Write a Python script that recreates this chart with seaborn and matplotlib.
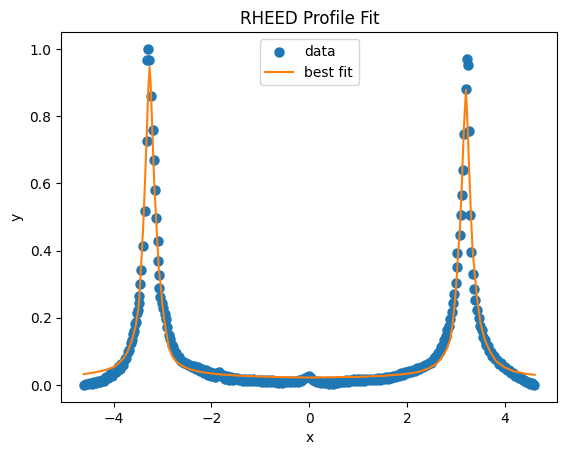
import matplotlib
matplotlib.use("Agg")
import matplotlib.pyplot as plt
import seaborn as sns
import numpy as np

# ---- measured data (x, y) ----
tail_left_x = [-4.60,-4.56,-4.52,-4.48,-4.44,-4.40,-4.36,-4.32,-4.28,-4.24,-4.20,-4.16,-4.12,-4.08,-4.04,-4.00,
               -3.96,-3.92,-3.88,-3.84,-3.80,-3.77,-3.74,-3.71,-3.68,-3.65,-3.62,-3.60,-3.58,-3.56,-3.54,-3.52,-3.50,-3.49]
tail_left_y = [0.000,0.004,0.002,0.007,0.004,0.009,0.006,0.012,0.009,0.016,0.013,0.024,0.020,0.032,0.028,0.041,
               0.037,0.052,0.046,0.063,0.060,0.078,0.080,0.097,0.103,0.124,0.134,0.152,0.160,0.180,0.188,0.214,0.222,0.244]

peak_left_x = [-3.476,-3.463,-3.443,-3.394,-3.361,-3.327,-3.310,-3.290,-3.268,-3.245,-3.198,-3.178,-3.157,-3.129,
               -3.102,-3.088,-3.076,-3.067,-3.050,-3.020,-2.990,-2.960,-2.930]
peak_left_y = [0.265,0.300,0.342,0.414,0.517,0.726,0.967,1.000,0.967,0.860,0.760,0.668,0.580,0.497,
               0.428,0.369,0.327,0.289,0.263,0.245,0.228,0.212,0.195]

shoulder_left_x = [-2.90,-2.87,-2.84,-2.81,-2.78,-2.75,-2.72,-2.69,-2.66,-2.63,-2.60,-2.56,-2.52,-2.48,-2.44,-2.40,
                   -2.36,-2.32,-2.28,-2.24,-2.20,-2.16,-2.12,-2.08,-2.04,-2.00,-1.96,-1.92,-1.88,-1.84,-1.80,-1.76,
                   -1.72,-1.68,-1.64,-1.60,-1.56,-1.52]
shoulder_left_y = [0.172,0.148,0.138,0.119,0.114,0.098,0.095,0.083,0.082,0.072,0.072,0.064,0.065,0.058,0.060,0.053,
                   0.056,0.048,0.052,0.041,0.048,0.034,0.043,0.030,0.039,0.026,0.036,0.024,0.036,0.037,0.028,0.030,
                   0.019,0.026,0.016,0.023,0.015,0.022]

center_x = [-1.48,-1.44,-1.40,-1.36,-1.32,-1.28,-1.24,-1.20,-1.16,-1.12,-1.08,-1.04,-1.00,-0.96,-0.92,-0.88,
            -0.84,-0.80,-0.76,-0.72,-0.68,-0.64,-0.60,-0.56,-0.52,-0.48,-0.44,-0.40,-0.36,-0.32,-0.28,-0.24,
            -0.20,-0.16,-0.12,-0.08,-0.04,0.00,0.04,0.08,0.12,0.16,0.20,0.24,0.28,0.32,0.36,0.40,
            0.44,0.48,0.52,0.56,0.60,0.64,0.68,0.72,0.76,0.80,0.84,0.88,0.92,0.96,1.00,1.04,
            1.08,1.12,1.16,1.20,1.24,1.28,1.32,1.36,1.40,1.44,1.48,1.52,1.56,1.60,1.64,1.68,
            1.72,1.76,1.80,1.84,1.88,1.92,1.96,2.00,2.04,2.08,2.12,2.16,2.20,2.24,2.28,2.32,
            2.36,2.40,2.44,2.48,2.52,2.55,2.58,2.61,2.64,2.67,2.70,2.73,2.76,2.79,2.82,2.85,2.88]
center_y = [0.021,0.014,0.019,0.013,0.018,0.012,0.017,0.013,0.018,0.012,0.016,0.011,0.016,0.010,0.015,0.010,
            0.014,0.009,0.014,0.008,0.012,0.006,0.010,0.006,0.011,0.008,0.012,0.008,0.013,0.009,0.013,0.010,
            0.014,0.012,0.017,0.020,0.025,0.028,0.022,0.016,0.012,0.008,0.011,0.006,0.010,0.005,0.009,0.004,
            0.008,0.004,0.009,0.006,0.011,0.008,0.013,0.009,0.014,0.010,0.015,0.011,0.017,0.012,0.017,0.013,
            0.018,0.013,0.018,0.014,0.019,0.014,0.019,0.015,0.020,0.016,0.021,0.017,0.023,0.019,0.025,0.021,
            0.027,0.023,0.030,0.027,0.034,0.031,0.038,0.035,0.041,0.038,0.045,0.042,0.049,0.047,0.053,0.052,
            0.059,0.058,0.066,0.066,0.074,0.076,0.084,0.087,0.096,0.102,0.112,0.120,0.135,0.146,0.163,0.176,0.196]

peak_right_x = [2.912,2.945,2.965,3.000,3.014,3.027,3.075,3.102,3.129,3.149,3.163,3.204,3.218,3.251,3.265,
                3.280,3.310,3.345,3.365,3.390,3.430]
peak_right_y = [0.218,0.243,0.270,0.303,0.350,0.392,0.447,0.506,0.565,0.640,0.747,0.880,0.969,0.952,0.757,
                0.506,0.397,0.330,0.285,0.253,0.223]

tail_right_x = [3.47,3.50,3.53,3.56,3.59,3.62,3.65,3.68,3.71,3.74,3.77,3.80,3.84,3.88,3.92,3.96,
                4.00,4.04,4.08,4.12,4.16,4.20,4.24,4.28,4.32,4.36,4.40,4.44,4.48,4.52,4.56,4.60]
tail_right_y = [0.198,0.174,0.163,0.142,0.135,0.119,0.115,0.100,0.098,0.087,0.086,0.076,0.074,0.063,0.064,0.054,
                0.054,0.045,0.044,0.035,0.036,0.027,0.028,0.020,0.021,0.014,0.015,0.009,0.010,0.004,0.005,0.000]

# ---- best-fit curve values ----
fit_x = [-4.61,-4.40,-4.20,-4.00,-3.90,-3.80,-3.72,-3.65,-3.60,-3.55,-3.50,-3.48,-3.45,-3.42,-3.40,-3.36,-3.32,
         -3.29,-3.265,-3.24,-3.21,-3.17,-3.12,-3.076,-3.04,-3.006,-2.97,-2.93,-2.87,-2.80,-2.70,-2.55,-2.43,
         -2.20,-1.88,-1.50,-1.00,-0.50,0.00,0.50,1.00,1.50,1.86,2.10,2.27,2.45,2.60,2.67,2.75,2.82,2.88,2.93,
         2.98,3.02,3.047,3.08,3.12,3.16,3.204,3.24,3.28,3.32,3.34,3.39,3.435,3.50,3.59,3.70,3.83,4.00,4.17,4.40,4.61]
fit_y = [0.032,0.037,0.043,0.053,0.064,0.079,0.098,0.124,0.146,0.176,0.222,0.250,0.330,0.405,0.461,0.600,0.760,
         0.885,0.946,0.885,0.760,0.600,0.461,0.342,0.300,0.243,0.200,0.160,0.110,0.085,0.066,0.053,0.046,
         0.038,0.032,0.028,0.025,0.023,0.022,0.023,0.024,0.027,0.031,0.035,0.040,0.050,0.063,0.074,0.090,0.110,0.134,0.180,
         0.253,0.330,0.402,0.461,0.600,0.760,0.878,0.760,0.600,0.461,0.402,0.320,0.253,0.185,0.134,0.098,0.069,0.052,0.041,0.034,0.030]

data_x = tail_left_x + peak_left_x + shoulder_left_x + center_x + peak_right_x + tail_right_x
data_y = tail_left_y + peak_left_y + shoulder_left_y + center_y + peak_right_y + tail_right_y

fig, ax = plt.subplots(figsize=(6.4, 4.8), dpi=100)
sns.scatterplot(x=data_x, y=data_y, ax=ax, color="#1f77b4", edgecolor="#1f77b4",
                linewidth=1.5, s=36, label="data", zorder=2)
sns.lineplot(x=fit_x, y=fit_y, ax=ax, color="#ff7f0e", linewidth=1.5, label="best fit",
             sort=False, estimator=None, zorder=3)
ax.set_title("RHEED Profile Fit")
ax.set_xlabel("x")
ax.set_ylabel("y")
ax.legend(loc="upper center")
fig.savefig("out.png", dpi=100, bbox_inches="tight")
